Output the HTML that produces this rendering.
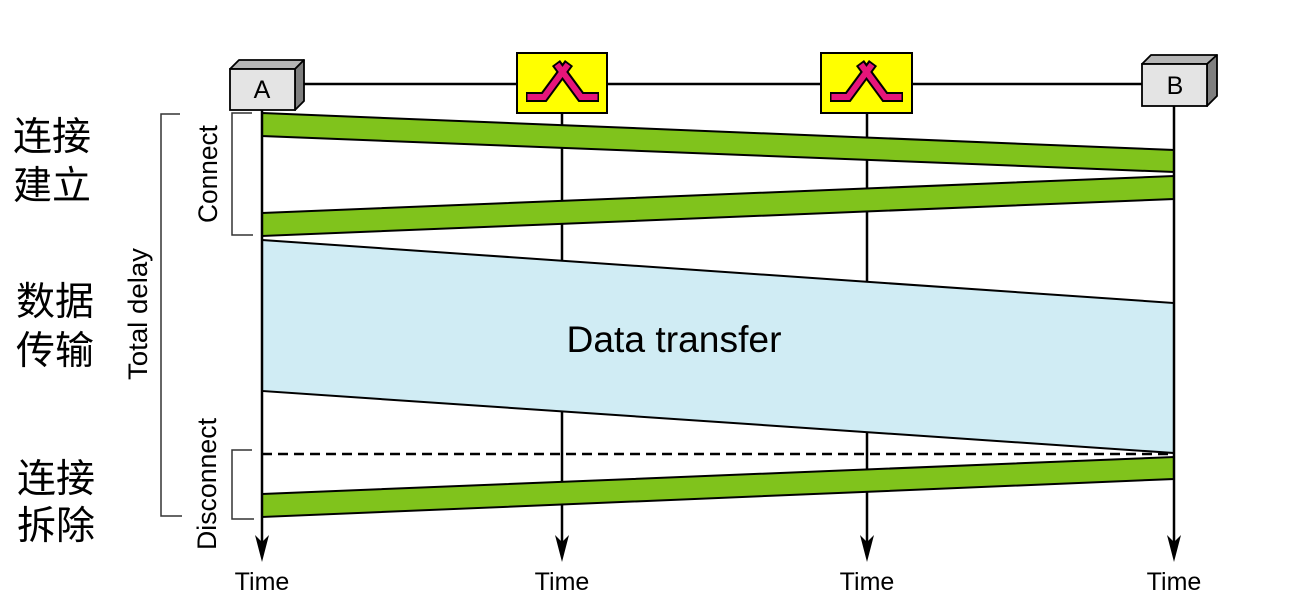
<!DOCTYPE html>
<html>
<head>
<meta charset="utf-8">
<style>
  html,body{margin:0;padding:0;background:#fff;}
  svg{display:block;}
  .lat{font-family:"Liberation Sans",sans-serif;}
  .cjk{font-family:"Liberation Sans","Noto Sans CJK SC",sans-serif;}
</style>
</head>
<body>
<svg width="1291" height="608" viewBox="0 0 1291 608" xmlns="http://www.w3.org/2000/svg">
  <rect width="1291" height="608" fill="#fff"/>

  <!-- horizontal link line -->
  <line x1="300" y1="84" x2="1145" y2="84" stroke="#000" stroke-width="2.5"/>

  <!-- router vertical lines -->
  <line x1="562" y1="112" x2="562" y2="545" stroke="#000" stroke-width="2.5"/>
  <line x1="867" y1="112" x2="867" y2="545" stroke="#000" stroke-width="2.5"/>

  <!-- green bands and data transfer -->
  <polygon points="262,113 1174,150 1174,172 262,136" fill="#80c31c" stroke="#000" stroke-width="2"/>
  <polygon points="262,213 1174,176 1174,199 262,236" fill="#80c31c" stroke="#000" stroke-width="2"/>
  <polygon points="262,240 1174,303 1174,453 262,391" fill="#d0ecf4" stroke="#000" stroke-width="2"/>
  <polygon points="262,494 1174,457 1174,479 262,517" fill="#80c31c" stroke="#000" stroke-width="2"/>

  <!-- dashed line -->
  <line x1="262" y1="454" x2="1174" y2="454" stroke="#000" stroke-width="2.5" stroke-dasharray="10,6"/>

  <!-- A and B vertical lines -->
  <line x1="262" y1="110" x2="262" y2="545" stroke="#000" stroke-width="2.5"/>
  <line x1="1174" y1="106" x2="1174" y2="545" stroke="#000" stroke-width="2.5"/>

  <!-- arrowheads -->
  <path d="M262,562 L255,535 L262,542 L269,535 Z" fill="#000"/>
  <path d="M562,562 L555,535 L562,542 L569,535 Z" fill="#000"/>
  <path d="M867,562 L860,535 L867,542 L874,535 Z" fill="#000"/>
  <path d="M1174,562 L1167,535 L1174,542 L1181,535 Z" fill="#000"/>

  <!-- Box A -->
  <polygon points="230,69 239,60 304,60 295,69" fill="#b5b5b5" stroke="#000" stroke-width="1.8" stroke-linejoin="round"/>
  <polygon points="295,69 304,60 304,101 295,110" fill="#7f7f7f" stroke="#000" stroke-width="1.8" stroke-linejoin="round"/>
  <rect x="230" y="69" width="65" height="41" fill="#e4e4e4" stroke="#000" stroke-width="1.8"/>
  <text x="262" y="98" class="lat" font-size="25" text-anchor="middle" fill="#000">A</text>

  <!-- Box B -->
  <polygon points="1142,64 1151,55 1217,55 1207,64" fill="#b5b5b5" stroke="#000" stroke-width="1.8" stroke-linejoin="round"/>
  <polygon points="1207,64 1217,55 1217,96 1207,106" fill="#7f7f7f" stroke="#000" stroke-width="1.8" stroke-linejoin="round"/>
  <rect x="1142" y="64" width="65" height="42" fill="#e4e4e4" stroke="#000" stroke-width="1.8"/>
  <text x="1175" y="94" class="lat" font-size="25" text-anchor="middle" fill="#000">B</text>

  <!-- Router 1 -->
  <rect x="517" y="53" width="90" height="60" fill="#ffff00" stroke="#000" stroke-width="2"/>
  <g fill="none" stroke-linejoin="miter" stroke-linecap="butt">
    <path d="M526,97 H544 L569,63" stroke="#000" stroke-width="10"/>
    <path d="M599,97 H581 L556,63" stroke="#000" stroke-width="10"/>
    <path d="M527.5,97 H544 L568,64.5" stroke="#e6157a" stroke-width="6"/>
    <path d="M597.5,97 H581 L557,64.5" stroke="#e6157a" stroke-width="6"/>
  </g>

  <!-- Router 2 -->
  <rect x="821" y="53" width="91" height="60" fill="#ffff00" stroke="#000" stroke-width="2"/>
  <g fill="none" stroke-linejoin="miter" stroke-linecap="butt">
    <path d="M830,97 H848 L873,63" stroke="#000" stroke-width="10"/>
    <path d="M903,97 H885 L860,63" stroke="#000" stroke-width="10"/>
    <path d="M831.5,97 H848 L872,64.5" stroke="#e6157a" stroke-width="6"/>
    <path d="M901.5,97 H885 L861,64.5" stroke="#e6157a" stroke-width="6"/>
  </g>

  <!-- Brackets -->
  <path d="M252,113 H232 V235 H253" fill="none" stroke="#333" stroke-width="1.5"/>
  <path d="M180,114 H161 V516 H182" fill="none" stroke="#333" stroke-width="1.5"/>
  <path d="M252,450 H232 V519 H254" fill="none" stroke="#333" stroke-width="1.5"/>

  <!-- Rotated labels -->
  <text transform="translate(217,174) rotate(-90)" class="lat" font-size="27" text-anchor="middle" textLength="98" lengthAdjust="spacingAndGlyphs" fill="#000">Connect</text>
  <text transform="translate(147,314) rotate(-90)" class="lat" font-size="27" text-anchor="middle" textLength="132" lengthAdjust="spacingAndGlyphs" fill="#000">Total delay</text>
  <text transform="translate(216,484) rotate(-90)" class="lat" font-size="27" text-anchor="middle" textLength="132" lengthAdjust="spacingAndGlyphs" fill="#000">Disconnect</text>

  <!-- Data transfer -->
  <text x="674" y="352" class="lat" font-size="37" text-anchor="middle" textLength="215" lengthAdjust="spacingAndGlyphs" fill="#000">Data transfer</text>

  <!-- Time labels -->
  <text x="262" y="590" class="lat" font-size="25" text-anchor="middle" fill="#000">Time</text>
  <text x="562" y="590" class="lat" font-size="25" text-anchor="middle" fill="#000">Time</text>
  <text x="867" y="590" class="lat" font-size="25" text-anchor="middle" fill="#000">Time</text>
  <text x="1174" y="590" class="lat" font-size="25" text-anchor="middle" fill="#000">Time</text>

  <!-- Chinese labels -->
  <text x="13" y="150" class="cjk" font-size="39" fill="#000">连接</text>
  <text x="13" y="199" class="cjk" font-size="39" fill="#000">建立</text>
  <text x="16" y="315" class="cjk" font-size="39" fill="#000">数据</text>
  <text x="16" y="364" class="cjk" font-size="39" fill="#000">传输</text>
  <text x="17" y="492" class="cjk" font-size="39" fill="#000">连接</text>
  <text x="17" y="539" class="cjk" font-size="39" fill="#000">拆除</text>
</svg>
</body>
</html>
